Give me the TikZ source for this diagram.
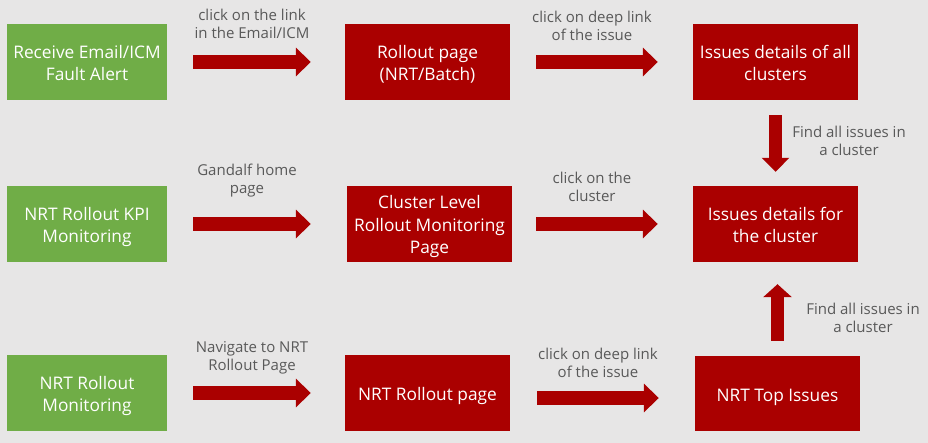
\documentclass[tikz,border=0pt]{standalone}
\usepackage{fontspec}
\setmainfont{Open Sans}
\usetikzlibrary{arrows.meta,calc}
\definecolor{bg}{RGB}{231,230,230}
\definecolor{boxgreen}{RGB}{112,173,71}
\definecolor{boxred}{RGB}{170,0,0}
\definecolor{labelgray}{RGB}{89,89,89}
\newcommand{\bxtext}[1]{\raisebox{-3pt}[\height][\depth]{\begin{tabular}{@{}c@{}}#1\end{tabular}}}
\begin{document}
\begin{tikzpicture}[x=1pt,y=-1pt,
  box/.style={rectangle,inner sep=0pt,minimum width=165pt,minimum height=76pt,
    align=center,text=white,font=\fontsize{17.3}{22.5}\selectfont},
  gbox/.style={box,fill=boxgreen,minimum width=160pt},
  rbox/.style={box,fill=boxred},
  lbl/.style={align=center,text=labelgray,font=\fontsize{15}{18}\selectfont,inner sep=0pt},
  harrow/.style={draw=boxred,line width=14pt,-{Triangle[length=15pt,width=28pt]}},
  varrow/.style={draw=boxred,line width=13pt,-{Triangle[length=14pt,width=27pt]}}
]
\fill[bg] (0,0) rectangle (928,443);
\useasboundingbox (0,0) rectangle (928,443);

\node[gbox] (g1) at (87,62) {\bxtext{Receive Email/ICM\\Fault Alert}};
\node[rbox] (r1) at (427.5,62) {\bxtext{Rollout page\\(NRT/Batch)}};
\node[rbox] (r2) at (775.5,62) {\bxtext{Issues details of all\\clusters}};
\node[gbox] (g2) at (87,224) {\bxtext{NRT Rollout KPI\\Monitoring}};
\node[rbox] (r3) at (429.5,224) {\bxtext{Cluster Level\\Rollout Monitoring\\Page}};
\node[rbox] (r4) at (775.5,224) {\bxtext{Issues details for\\the cluster}};
\node[gbox] (g3) at (87,393) {\bxtext{NRT Rollout\\Monitoring}};
\node[rbox] (r5) at (427.5,393) {\bxtext{NRT Rollout page}};
\node[rbox,minimum height=75pt] (r6) at (777.5,393.5) {\bxtext{NRT Top Issues}};

% horizontal arrows
\draw[harrow,shorten <=26pt,shorten >=34pt] (g1.east) -- (r1.west);
\draw[harrow,shorten <=26pt,shorten >=35pt] (r1.east) -- (r2.west);
\draw[harrow,shorten <=26pt,shorten >=36pt] (g2.east) -- (r3.west);
\draw[harrow,shorten <=24pt,shorten >=35pt] (r3.east) -- (r4.west);
\draw[harrow,shorten <=26pt,shorten >=34pt] (g3.east) -- (r5.west);
\coordinate (a6s) at ($(r5.east)+(0,5)$);
\coordinate (a6e) at ($(r6.west)+(0,4.5)$);
\draw[harrow,shorten <=27pt,shorten >=36pt] (a6s) -- (a6e);

% vertical arrows
\draw[varrow,shorten <=15pt,shorten >=14pt] (r2.south) -- (r4.north);
\coordinate (u1) at ($(r6.north)+(0,0)$);
\coordinate (u2) at ($(r4.south)+(2,0)$);
\draw[varrow,-{Triangle[length=13pt,width=28pt]},shorten <=15pt,shorten >=22pt] (u1) -- (u2);

% labels
\node[lbl] (l1) at (252,24) {click on the link\\in the Email/ICM};
\node[lbl] (l2) at (592,26) {click on deep link\\of the issue};
\node[lbl] (l3) at (247,181) {Gandalf home\\page};
\node[lbl] (l4) at (592,187) {click on the\\cluster};
\node[lbl] (l5) at (252,358) {Navigate to NRT\\Rollout Page};
\node[lbl] (l6) at (598,363) {click on deep link\\of the issue};
\node[lbl] (l7) at (849,141) {Find all issues in\\a cluster};
\node[lbl] (l8) at (863,318) {Find all issues in\\a cluster};
\end{tikzpicture}
\end{document}
